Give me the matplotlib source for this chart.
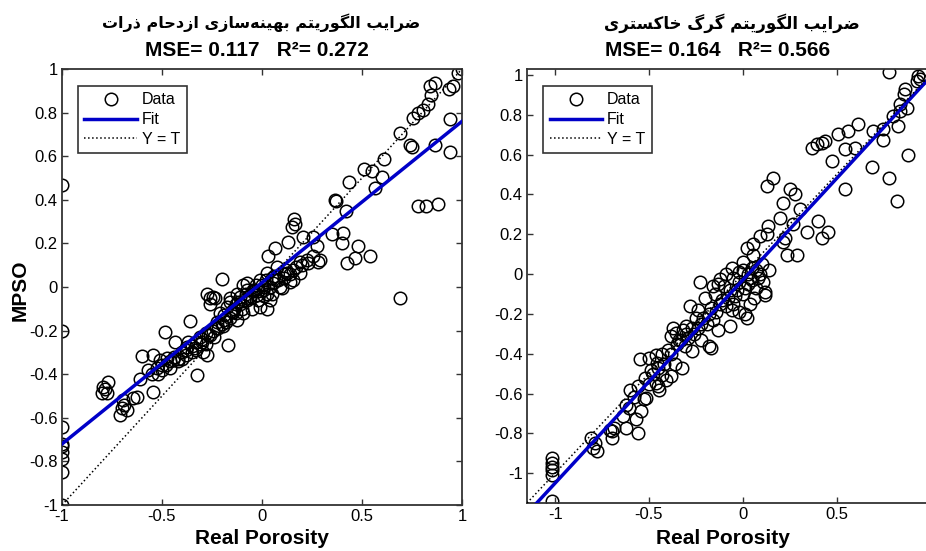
import numpy as np
import matplotlib
matplotlib.use("Agg")
import matplotlib.pyplot as plt
from matplotlib.lines import Line2D

plt.rcParams['font.family'] = ['Liberation Sans', 'DejaVu Sans']
plt.rcParams['axes.unicode_minus'] = False

# ---- data ----
# left panel (PSO): target (real porosity) vs output
pso_t = [-1.0, -1.0, -1.0, -1.0, -1.0, -1.0, -1.0, -1.0, -1.0,
         -0.77, -0.795, -0.80, -0.775, -0.785,
         -0.695, -0.70, -0.675, -0.71, -0.69,
         -0.625, -0.645, -0.61, -0.545, -0.60, -0.545, -0.485, -0.435, -0.36, -0.325,
         -0.57, -0.525, -0.51, -0.475, -0.445, -0.46, -0.375, -0.37, -0.335, -0.31,
         -0.295, -0.275, -0.31, -0.27, -0.245, -0.225, -0.195, -0.17, -0.21, -0.175,
         -0.145, -0.11, -0.075, -0.05, -0.025, 0.005, 0.025, 0.055, 0.10, 0.14,
         -0.095, -0.075, -0.125, -0.16, -0.125, -0.095,
         -0.075, -0.01, 0.025, 0.075, 0.125, 0.155, 0.19, 0.23, 0.155, 0.09,
         0.025, -0.045, -0.11, -0.16, -0.01, 0.04, 0.19, 0.255, 0.29,
         -0.2, -0.275, -0.26, -0.235, -0.26, -0.245,
         -0.40, -0.42, -0.38, -0.30, -0.28, -0.23, -0.19, -0.15, -0.13, -0.06,
         -0.02, 0.01, 0.05, 0.07, 0.11, -0.33, -0.35, -0.44, -0.50, -0.55,
         -0.52, -0.50, -0.48, -0.46, -0.42, -0.40, -0.38, -0.35, -0.33, -0.30,
         -0.28, -0.26, -0.24, -0.22, -0.20, -0.19, -0.18, -0.16, -0.14, -0.13,
         -0.12, -0.10, -0.09, -0.08, -0.06, -0.04, -0.03, -0.02, 0.0, 0.01,
         0.02, 0.04, 0.05, 0.06, 0.08, 0.11, 0.12, 0.14, 0.17, 0.20,
         0.16, 0.165, 0.15, 0.13, 0.205, 0.255, 0.275, 0.35, 0.405, 0.40,
         0.48, 0.54, 0.465, 0.425, 0.28, 0.225, 0.065, 0.03,
         0.69, 0.365, 0.37, 0.42, 0.435, 0.51, 0.55, 0.60, 0.565, 0.61,
         0.69, 0.74, 0.75, 0.78, 0.82, 0.88, 0.865, 0.94, 0.94,
         0.755, 0.78, 0.805, 0.83, 0.843, 0.84, 0.865, 0.935, 0.955, 0.98, 1.0]
pso_y = [0.47, -0.20, -0.64, -0.72, -0.73, -0.755, -0.79, -0.85, -1.0,
         -0.435, -0.46, -0.485, -0.485, -0.47,
         -0.52, -0.555, -0.565, -0.585, -0.54,
         -0.505, -0.51, -0.42, -0.48, -0.315, -0.31, -0.205, -0.25, -0.155, -0.405,
         -0.38, -0.37, -0.335, -0.325, -0.335, -0.37, -0.275, -0.25, -0.28, -0.26,
         -0.30, -0.31, -0.23, -0.22, -0.20, -0.16, -0.18, -0.265, -0.12, -0.09,
         -0.115, -0.08, -0.06, -0.10, -0.035, -0.015, -0.10, 0.02, -0.005, 0.025,
         0.01, -0.015, -0.03, -0.05, -0.15, -0.12,
         0.02, 0.03, 0.065, 0.09, 0.065, 0.08, 0.115, 0.11, 0.03, 0.0,
         -0.03, -0.015, -0.045, -0.07, -0.09, -0.06, 0.065, 0.14, 0.125,
         0.035, -0.03, -0.05, -0.05, -0.08, -0.045,
         -0.33, -0.34, -0.31, -0.24, -0.21, -0.19, -0.15, -0.11, -0.08, -0.05,
         -0.02, 0.0, 0.04, 0.03, 0.06, -0.29, -0.27, -0.32, -0.36, -0.40,
         -0.40, -0.38, -0.36, -0.34, -0.33, -0.30, -0.29, -0.30, -0.25, -0.25,
         -0.26, -0.22, -0.23, -0.19, -0.17, -0.13, -0.16, -0.14, -0.10, -0.12,
         -0.07, -0.10, -0.06, -0.03, -0.04, -0.02, 0.01, -0.06, 0.01, -0.04,
         0.03, 0.0, -0.03, 0.05, 0.03, 0.04, 0.08, 0.06, 0.09, 0.10,
         0.31, 0.29, 0.275, 0.205, 0.23, 0.23, 0.19, 0.245, 0.25, 0.20,
         0.19, 0.14, 0.135, 0.11, 0.115, 0.125, 0.18, 0.14,
         -0.05, 0.40, 0.395, 0.35, 0.48, 0.54, 0.53, 0.505, 0.455, 0.585,
         0.705, 0.65, 0.64, 0.37, 0.37, 0.38, 0.65, 0.77, 0.62,
         0.775, 0.80, 0.81, 0.84, 0.88, 0.92, 0.934, 0.91, 0.92, 0.98, 1.0]

# right panel (GWO)
gwo_t = [-1.015, -1.015, -1.015, -1.015, -1.015, -1.015,
         -0.81, -0.79, -0.775, -0.80, -0.71, -0.695, -0.685, -0.695,
         -0.62, -0.605, -0.64, -0.62, -0.56, -0.525, -0.515, -0.54, -0.57, -0.56,
         -0.445, -0.46, -0.43, -0.41, -0.55, -0.50, -0.46, -0.455, -0.49,
         -0.325, -0.38, -0.37, -0.38, -0.355, -0.32, -0.30, -0.34,
         -0.27, -0.18, -0.17, -0.07, 0.02, 0.01, 0.12, -0.28, -0.23, -0.12,
         -0.20, -0.15, -0.10, -0.05, 0.0, 0.05, -0.12, -0.08, -0.03, 0.03,
         0.08, 0.10, -0.25, -0.22, -0.18, -0.30, -0.27, 0.0, -0.05, 0.06,
         -0.13, -0.09, -0.02, 0.04, -0.24, -0.16, -0.06, 0.07, -0.35, -0.43,
         -0.60, -0.58, -0.52, -0.50, -0.48, -0.45, -0.42, -0.40, -0.38, -0.33,
         -0.31, -0.29, -0.26, -0.24, -0.21, -0.19, -0.17, -0.14, -0.11, -0.09,
         -0.07, -0.04, -0.02, 0.01, 0.03, 0.05, 0.07, 0.09, 0.11, 0.14,
         -0.16, -0.06, 0.0, -0.13, -0.22, -0.45, -0.36, 0.04, -0.02,
         0.12, 0.135, 0.13, 0.09, 0.055, 0.02, 0.055, 0.235, 0.29,
         0.27, 0.225, 0.215, 0.40, 0.455, 0.34, 0.42,
         0.305, 0.28, 0.25, 0.215, 0.20, 0.13, 0.16,
         0.37, 0.395, 0.42, 0.44, 0.475, 0.545, 0.56, 0.51, 0.615, 0.60, 0.545,
         0.69, 0.695, 0.75, 0.75, 0.777, 0.82, 0.88, 0.83,
         0.84, 0.876, 0.84, 0.80, 0.866, 0.857,
         0.777, 0.936, 0.963, 0.947, 0.93]
gwo_y = [-0.925, -0.95, -0.97, -0.985, -1.01, -1.14,
         -0.825, -0.85, -0.89, -0.875, -0.785, -0.79, -0.775, -0.825,
         -0.66, -0.675, -0.715, -0.775, -0.56, -0.63, -0.625, -0.69, -0.73, -0.80,
         -0.58, -0.545, -0.505, -0.53, -0.425, -0.42, -0.405, -0.445, -0.48,
         -0.47, -0.51, -0.27, -0.31, -0.295, -0.28, -0.26, -0.33,
         -0.385, -0.36, -0.37, -0.26, -0.22, -0.20, -0.105, -0.16, -0.04, -0.025,
         -0.12, -0.10, -0.06, -0.02, 0.02, 0.03, -0.15, -0.12, -0.08, -0.05,
         -0.02, 0.05, -0.22, -0.25, -0.20, -0.30, -0.27, -0.10, -0.15, -0.12,
         -0.05, 0.0, 0.01, -0.02, -0.18, -0.23, -0.18, -0.07, -0.35, -0.40,
         -0.58, -0.62, -0.52, -0.55, -0.50, -0.47, -0.45, -0.38, -0.40, -0.33,
         -0.36, -0.32, -0.30, -0.27, -0.22, -0.25, -0.17, -0.19, -0.13, -0.16,
         -0.08, -0.11, -0.04, -0.07, 0.0, -0.03, 0.02, 0.0, -0.04, 0.02,
         -0.06, 0.03, 0.06, -0.28, -0.33, -0.56, -0.45, -0.15, -0.19,
         -0.09, 0.24, 0.20, 0.19, 0.15, 0.13, 0.095, 0.095, 0.095,
         0.25, 0.18, 0.16, 0.265, 0.21, 0.21, 0.18,
         0.325, 0.40, 0.425, 0.355, 0.28, 0.44, 0.48,
         0.635, 0.655, 0.66, 0.67, 0.57, 0.425, 0.72, 0.705, 0.755, 0.635, 0.63,
         0.54, 0.72, 0.73, 0.675, 0.48, 0.365, 0.60, 0.745,
         0.855, 0.835, 0.82, 0.795, 0.93, 0.905,
         1.014, 0.997, 1.007, 0.98, 0.97]

# fit lines (slope, intercept) and the stats in the titles
pso_fit = (0.74, 0.02)
gwo_fit = (1.02, -0.03)
pso_title = 'ضرایب الگوریتم بهینه\u200cسازی ازدحام ذرات'
gwo_title = 'ضرایب الگوریتم گرگ خاکستری'
pso_stats = 'MSE= 0.117   R²= 0.272'
gwo_stats = 'MSE= 0.164   R²= 0.566'

# ---- simple Persian shaping (matplotlib has no complex text layout) ----
FORMS = {
    'ا': ('\uFE8D', '\uFE8E'), 'د': ('\uFEA9', '\uFEAA'), 'ذ': ('\uFEAB', '\uFEAC'),
    'ر': ('\uFEAD', '\uFEAE'), 'ز': ('\uFEAF', '\uFEB0'), 'و': ('\uFEED', '\uFEEE'),
    'ب': ('\uFE8F', '\uFE90', '\uFE91', '\uFE92'), 'ت': ('\uFE95', '\uFE96', '\uFE97', '\uFE98'),
    'ح': ('\uFEA1', '\uFEA2', '\uFEA3', '\uFEA4'), 'خ': ('\uFEA5', '\uFEA6', '\uFEA7', '\uFEA8'),
    'س': ('\uFEB1', '\uFEB2', '\uFEB3', '\uFEB4'), 'ض': ('\uFEBD', '\uFEBE', '\uFEBF', '\uFEC0'),
    'ل': ('\uFEDD', '\uFEDE', '\uFEDF', '\uFEE0'), 'م': ('\uFEE1', '\uFEE2', '\uFEE3', '\uFEE4'),
    'ن': ('\uFEE5', '\uFEE6', '\uFEE7', '\uFEE8'), 'ه': ('\uFEE9', '\uFEEA', '\uFEEB', '\uFEEC'),
    'ی': ('\uFBFC', '\uFBFD', '\uFBFE', '\uFBFF'), 'ک': ('\uFB8E', '\uFB8F', '\uFB90', '\uFB91'),
    'گ': ('\uFB92', '\uFB93', '\uFB94', '\uFB95'),
}


def shape(s):
    out = []
    for i, c in enumerate(s):
        if c not in FORMS:
            if c != '\u200c':
                out.append(c)
            continue
        f = FORMS[c]
        prev = i > 0 and s[i - 1] in FORMS and len(FORMS[s[i - 1]]) == 4
        nxt = len(f) == 4 and i + 1 < len(s) and s[i + 1] in FORMS
        if prev and nxt:
            out.append(f[3])
        elif nxt:
            out.append(f[2])
        elif prev:
            out.append(f[1])
        else:
            out.append(f[0])
    return ''.join(out)[::-1]


def fmt(v):
    return '0' if abs(v) < 1e-9 else '%g' % v


fig = plt.figure(figsize=(9.26, 5.51), dpi=100)
W, H = 926.0, 551.0
ax1 = fig.add_axes([62 / W, (H - 505) / H, 400 / W, 436 / H])
ax2 = fig.add_axes([527 / W, (H - 503) / H, 409 / W, 434 / H])

panels = [(ax1, pso_t, pso_y, pso_fit, (-1, 1), [-1, -0.5, 0, 0.5, 1]),
          (ax2, gwo_t, gwo_y, gwo_fit, (-1.15, 1.03), [-1, -0.5, 0, 0.5])]
for ax, t, y, fit, lim, xt in panels:
    ax.plot(t, y, 'o', mfc='none', mec='black', ms=9, mew=1.1, zorder=2)
    xs = np.array(lim)
    ax.plot(xs, fit[0] * xs + fit[1], color='#0000c8', lw=2.5, zorder=3)
    ax.plot(xs, xs, ':', color='black', lw=1.1, zorder=3)
    ax.set_xlim(lim)
    ax.set_ylim(lim)
    ax.set_xticks(xt)
    ax.set_xticklabels([fmt(v) for v in xt])
    yt = np.round(np.arange(-1, 1.01, 0.2), 1)
    ax.set_yticks(yt)
    ax.set_yticklabels([fmt(v) for v in yt])
    ax.tick_params(direction='in', top=True, right=True, length=4, width=1,
                   color='#333333', labelsize=12, pad=3)
    for sp in ax.spines.values():
        sp.set_color('#333333')
        sp.set_linewidth(1.3)
    handles = [Line2D([], [], ls='none', marker='o', mfc='none', mec='black', ms=9, mew=1.1),
               Line2D([], [], color='#0000c8', lw=2.5),
               Line2D([], [], color='black', ls=':', lw=1.1)]
    leg = ax.legend(handles, ['Data', 'Fit', 'Y = T'], loc='upper left',
                    bbox_to_anchor=(0.04, 0.961), borderaxespad=0, fontsize=11.5,
                    fancybox=False, framealpha=1, edgecolor='#333333',
                    handlelength=3.3, handletextpad=0.3, labelspacing=0.3,
                    borderpad=0.4)
    leg.get_frame().set_linewidth(1.2)

fig.text(261 / W, 1 - 23 / H, shape(pso_title), ha='center', va='center',
         fontsize=11.5, fontweight='bold', family=['DejaVu Sans'])
fig.text(732 / W, 1 - 23 / H, shape(gwo_title), ha='center', va='center',
         fontsize=12, fontweight='bold', family=['DejaVu Sans'])
fig.text(257 / W, 1 - 50 / H, pso_stats, ha='center', va='center',
         fontsize=15, fontweight='bold')
fig.text(718 / W, 1 - 50 / H, gwo_stats, ha='center', va='center',
         fontsize=15, fontweight='bold')
fig.text(262 / W, 1 - 539 / H, 'Real Porosity', ha='center', va='center',
         fontsize=15, fontweight='bold')
fig.text(723 / W, 1 - 539 / H, 'Real Porosity', ha='center', va='center',
         fontsize=15, fontweight='bold')
fig.text(20 / W, 1 - 290 / H, 'MPSO', ha='center', va='center', rotation=90,
         fontsize=15, fontweight='bold')

fig.savefig('out.png', dpi=100)
